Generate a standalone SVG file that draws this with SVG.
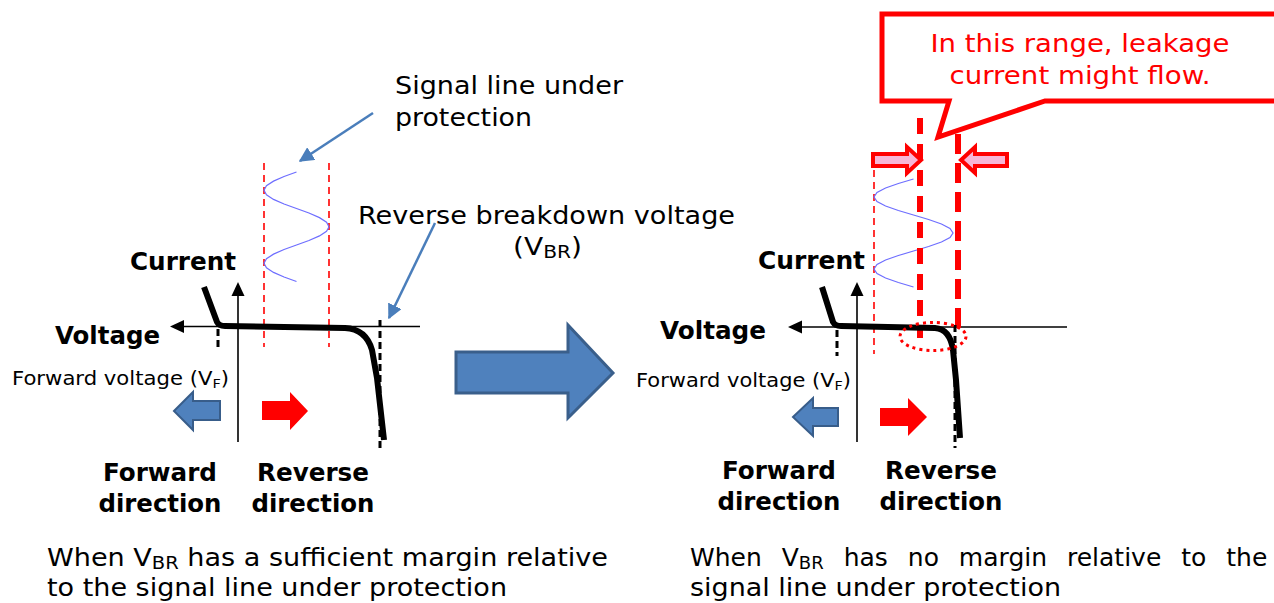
<svg xmlns="http://www.w3.org/2000/svg" width="1274" height="603" viewBox="0 0 1274 603">
<style>
text{font-family:"DejaVu Sans","Noto Sans",sans-serif;fill:#000}
.lbl{font-size:25px}
.b{font-size:24px;font-weight:bold}
.sm{font-size:19px}
.red{fill:#ff0000}
.axis{stroke:#000;stroke-width:1.6;fill:none}
.curve{stroke:#000;stroke-width:6;fill:none;stroke-linejoin:round}
.bdash{stroke:#000;stroke-width:3;stroke-dasharray:7,4;fill:none}
.rthin{stroke:#ff0000;stroke-width:1.6;stroke-dasharray:7,5;fill:none}
.rthick{stroke:#ff0000;stroke-width:6;fill:none}
.sine{stroke:#6e6eff;stroke-width:1.2;fill:none}
.pblue{stroke:#4a7ebb;stroke-width:2.5;fill:none}
.barrow{fill:#4f81bd;stroke:#385d8a;stroke-width:2}
.rarrow{fill:#ff0000}
.parrow{fill:#f7b6d6;stroke:#ff0000;stroke-width:4}
</style>
<defs>
<marker id="bh" viewBox="0 0 10 10" refX="9" refY="5" markerWidth="6" markerHeight="6" markerUnits="strokeWidth" orient="auto">
<path d="M0,0 L10,5 L0,10 Z" fill="#4a7ebb"/>
</marker>
</defs>

<g id="left-chart">
<line class="axis" x1="182" y1="326.5" x2="420" y2="326.5"/>
<polygon points="170,326.5 184,320 184,333"/>
<line class="axis" x1="238" y1="442" x2="238" y2="294"/>
<polygon points="238,282 231.5,296 244.5,296"/>
<line class="rthin" x1="264" y1="163" x2="264" y2="347"/>
<line class="rthin" x1="329" y1="163" x2="329" y2="347"/>
<polyline class="sine" points="296.5,172 284.05,176.56 273.52,181.13 266.47,185.69 264,190.25 266.47,194.81 273.52,199.38 284.05,203.94 296.5,208.5 308.95,213.06 319.48,217.63 326.53,222.19 329,226.75 326.53,231.31 319.48,235.88 308.95,240.44 296.5,245 284.05,249.56 273.52,254.13 266.47,258.69 264,263.25 266.47,267.81 273.52,272.38 284.05,276.94 296.5,281.5"/>
<line class="bdash" x1="218" y1="329" x2="218" y2="348"/>
<line class="bdash" x1="380" y1="320" x2="380" y2="448"/>
<path class="curve" d="M204,287 L217,322 Q219,326 225,326 L345,328 Q366,329 372,350 L377,378 L384,440"/>
<polygon class="barrow" points="174,411 193,392 193,401 220,401 220,420 193,420 193,430"/>
<polygon class="rarrow" points="262,401 290,401 290,392 308,411 290,430 290,420 262,420"/>
<text class="b" x="130" y="270" textLength="106" lengthAdjust="spacingAndGlyphs">Current</text>
<text class="b" x="55" y="344" textLength="105" lengthAdjust="spacingAndGlyphs">Voltage</text>
<text class="sm" x="12" y="385" textLength="217" lengthAdjust="spacingAndGlyphs">Forward voltage (V<tspan font-size="13" dy="3">F</tspan><tspan dy="-3">)</tspan></text>
<text class="b" x="160" y="481" text-anchor="middle" textLength="114" lengthAdjust="spacingAndGlyphs">Forward</text>
<text class="b" x="160" y="512" text-anchor="middle" textLength="123" lengthAdjust="spacingAndGlyphs">direction</text>
<text class="b" x="313" y="481" text-anchor="middle" textLength="112" lengthAdjust="spacingAndGlyphs">Reverse</text>
<text class="b" x="313" y="512" text-anchor="middle" textLength="123" lengthAdjust="spacingAndGlyphs">direction</text>
</g>

<g id="left-notes">
<text class="lbl" x="395" y="94" textLength="228" lengthAdjust="spacingAndGlyphs">Signal line under</text>
<text class="lbl" x="395" y="126" textLength="137" lengthAdjust="spacingAndGlyphs">protection</text>
<text class="lbl" x="358" y="224" textLength="377" lengthAdjust="spacingAndGlyphs">Reverse breakdown voltage</text>
<text class="lbl" x="513" y="255" textLength="69" lengthAdjust="spacingAndGlyphs">(V<tspan font-size="18" dy="3">BR</tspan><tspan dy="-3">)</tspan></text>
<text class="lbl" x="47" y="566" textLength="561" lengthAdjust="spacingAndGlyphs">When V<tspan font-size="18" dy="3">BR</tspan><tspan dy="-3"> has a sufficient margin relative</tspan></text>
<text class="lbl" x="47" y="596" textLength="460" lengthAdjust="spacingAndGlyphs">to the signal line under protection</text>
</g>

<g id="big-arrow">
<polygon points="456,352 568,352 568,325 613,373 568,418 568,393 456,393" fill="#4f81bd" stroke="#3a5f8b" stroke-width="3"/>
</g>

<g id="right-chart">
<line class="axis" x1="800" y1="327" x2="1067" y2="327"/>
<polygon points="788,327 802,320.5 802,333.5"/>
<line class="axis" x1="857" y1="442" x2="857" y2="294"/>
<polygon points="857,282 850.5,296 863.5,296"/>
<line class="rthin" x1="874" y1="170" x2="874" y2="354"/>
<polyline class="sine" points="913.5,179 898.37,183.5 885.57,188 877,192.5 874,197 877,201.5 885.57,206 898.37,210.5 913.5,215 928.63,219.5 941.43,224 950,228.5 953,233 950,237.5 941.43,242 928.63,246.5 913.5,251 898.37,255.5 885.57,260 877,264.5 874,269 877,273.5 885.57,278 898.37,282.5 913.5,287"/>
<line class="rthick" x1="920" y1="118" x2="920" y2="338" stroke-dasharray="16,10"/>
<line class="rthick" x1="958" y1="134" x2="958" y2="329" stroke-dasharray="20,9"/>
<line class="bdash" x1="837" y1="330" x2="837" y2="356"/>
<line class="bdash" x1="955" y1="325" x2="955" y2="448"/>
<path class="curve" d="M822,287 L833,322 Q835,326 841,326 L935,328 Q950,329 953,350 L956,380 L960,438"/>
<ellipse cx="933" cy="336.5" rx="33" ry="14" fill="none" stroke="#ff0000" stroke-width="3" stroke-dasharray="3,4"/>
<polygon class="barrow" points="793,417 813,398 813,408 838,408 838,426 813,426 813,436"/>
<polygon class="rarrow" points="880,408 908,408 908,398 927,417 908,436 908,426 880,426"/>
<polygon class="parrow" points="873,154 907,154 907,147 921,160 907,173 907,166 873,166"/>
<polygon class="parrow" points="1007,154 975,154 975,147 961,160 975,173 975,166 1007,166"/>
<text class="b" x="758" y="269" textLength="107" lengthAdjust="spacingAndGlyphs">Current</text>
<text class="b" x="660" y="339" textLength="106" lengthAdjust="spacingAndGlyphs">Voltage</text>
<text class="sm" x="636" y="387" textLength="215" lengthAdjust="spacingAndGlyphs">Forward voltage (V<tspan font-size="13" dy="3">F</tspan><tspan dy="-3">)</tspan></text>
<text class="b" x="779" y="479" text-anchor="middle" textLength="114" lengthAdjust="spacingAndGlyphs">Forward</text>
<text class="b" x="779" y="510" text-anchor="middle" textLength="123" lengthAdjust="spacingAndGlyphs">direction</text>
<text class="b" x="941" y="479" text-anchor="middle" textLength="112" lengthAdjust="spacingAndGlyphs">Reverse</text>
<text class="b" x="941" y="510" text-anchor="middle" textLength="123" lengthAdjust="spacingAndGlyphs">direction</text>
</g>

<g id="callout">
<path d="M882,14 L1280,14 L1280,101 L1045,101 L938,137 L949,101 L882,101 Z" fill="#fff" stroke="#ff0000" stroke-width="5" stroke-linejoin="miter"/>
<text class="lbl red" x="1080" y="52" text-anchor="middle" font-size="26" textLength="299" lengthAdjust="spacingAndGlyphs">In this range, leakage</text>
<text class="lbl red" x="1080" y="84" text-anchor="middle" font-size="26" textLength="261" lengthAdjust="spacingAndGlyphs">current might flow.</text>
</g>

<g id="right-notes">
<text class="lbl" x="690" y="566" word-spacing="12">When V<tspan font-size="18" dy="3">BR</tspan><tspan dy="-3"> has no margin relative to the</tspan></text>
<text class="lbl" x="690" y="596" textLength="371" lengthAdjust="spacingAndGlyphs">signal line under protection</text>
</g>

<g id="connectors">
<line class="pblue" x1="373" y1="113" x2="300" y2="161" marker-end="url(#bh)"/>
<line class="pblue" x1="435" y1="223" x2="389" y2="318" marker-end="url(#bh)"/>
</g>
</svg>
